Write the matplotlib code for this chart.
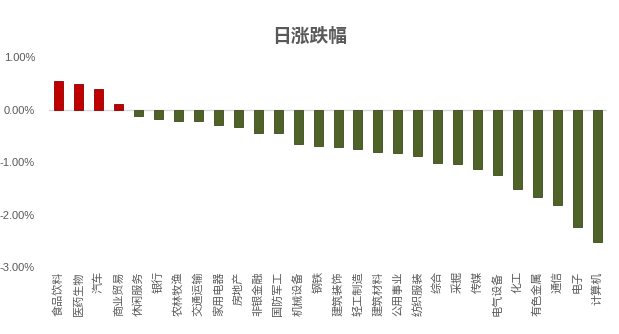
import matplotlib
matplotlib.use("Agg")
import matplotlib.pyplot as plt
import numpy as np

categories = ["食品饮料", "医药生物", "汽车", "商业贸易", "休闲服务", "银行", "农林牧渔", "交通运输",
              "家用电器", "房地产", "非银金融", "国防军工", "机械设备", "钢铁", "建筑装饰", "轻工制造",
              "建筑材料", "公用事业", "纺织服装", "综合", "采掘", "传媒", "电气设备", "化工",
              "有色金属", "通信", "电子", "计算机"]
values = [0.54, 0.48, 0.40, 0.10, -0.13, -0.17, -0.21, -0.21,
          -0.29, -0.33, -0.44, -0.44, -0.66, -0.69, -0.72, -0.75,
          -0.80, -0.83, -0.88, -1.01, -1.03, -1.13, -1.24, -1.51,
          -1.67, -1.82, -2.23, -2.53]
yticks = [1.0, 0.0, -1.0, -2.0, -3.0]
title = "日涨跌幅"

plt.rcParams['font.family'] = ['Noto Sans CJK SC', 'DejaVu Sans']

fig = plt.figure(figsize=(6.19, 3.34), dpi=100)
ax = fig.add_axes([0.079, 0.2006, 0.902, 0.6284])

x = np.arange(len(categories))
colors = ['#C00000' if v >= 0 else '#4F6228' for v in values]
edges = ['#8B0000' if v >= 0 else '#3A4A1C' for v in values]
ax.bar(x, values, width=0.45, color=colors, edgecolor=edges, linewidth=0.6, zorder=2)

ax.set_xlim(-0.5, len(categories) - 0.5)
ax.set_ylim(-3.0, 1.0)
ax.set_yticks(yticks)
ax.set_yticklabels([f"{t:.2f}%" for t in yticks], family=['Liberation Sans', 'DejaVu Sans'],
                   fontsize=8, color='#595959')
ax.axhline(0, color='#D9D9D9', linewidth=1, zorder=1)

ax.set_xticks(x)
ax.set_xticklabels(categories, rotation=90, fontsize=8, color='#595959', va='top')
ax.tick_params(axis='both', length=0)
ax.tick_params(axis='x', pad=3)
ax.tick_params(axis='y', pad=10)
for s in ax.spines.values():
    s.set_visible(False)

fig.text(0.5, 0.892, title, ha='center', va='center', fontsize=13.5, color='#595959',
         fontweight='bold')

fig.savefig('out.png', dpi=100)
